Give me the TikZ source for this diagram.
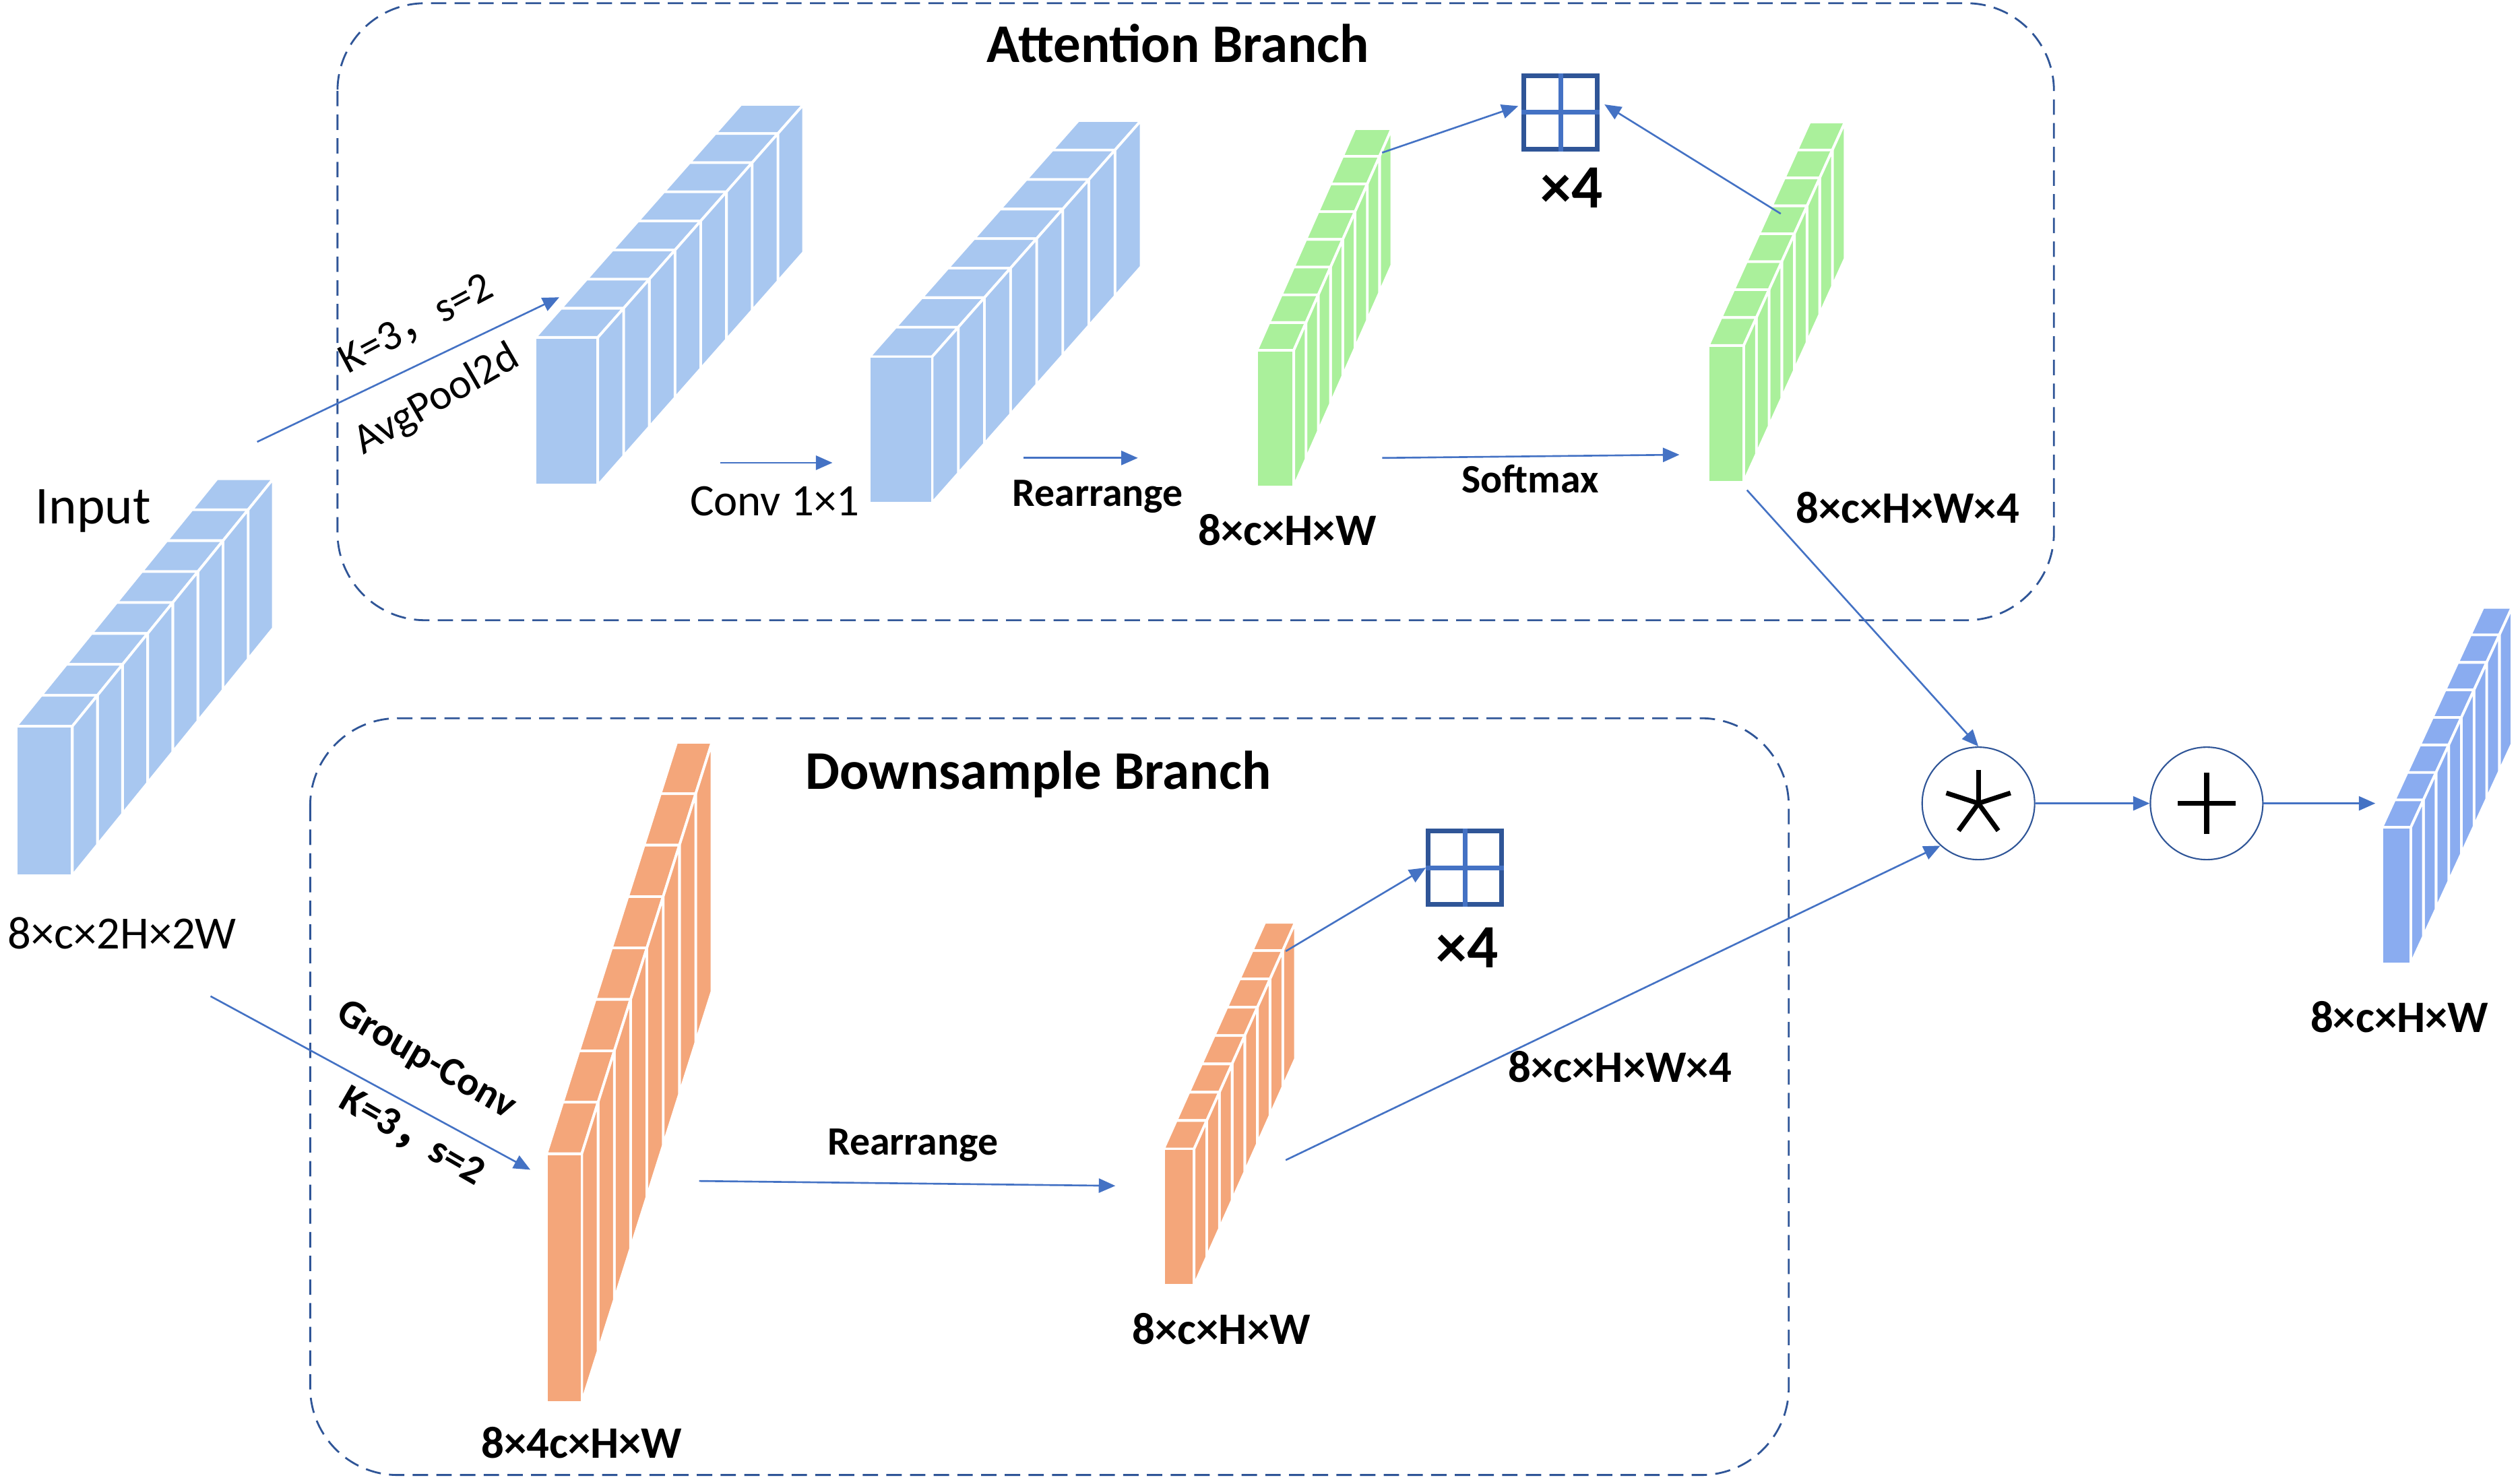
\documentclass[tikz,border=0pt]{standalone}
\usepackage{fontspec}
\setmainfont{Carlito}
\newfontfamily\cjk{Noto Sans CJK SC}
\usetikzlibrary{arrows.meta,calc}
\definecolor{blueFill}{RGB}{168,199,240}
\definecolor{greenFill}{RGB}{170,240,155}
\definecolor{orangeFill}{RGB}{244,166,122}
\definecolor{outFill}{RGB}{138,172,240}
\definecolor{arrowBlue}{RGB}{68,114,196}
\definecolor{boxBlue}{RGB}{47,85,151}
% #1 x0, #2 ytop, #3 w, #4 h, #5 dx, #6 dy, #7 colour
\newcommand\featbar[7]{%
  \begin{scope}[shift={(#1,#2)}]
    \foreach \i in {7,6,...,0}{%
      \pgfmathsetmacro\ox{\i*(#5)/8}%
      \pgfmathsetmacro\oy{\i*(#6)/8}%
      \pgfmathsetmacro\px{(\i+1)*(#5)/8}%
      \pgfmathsetmacro\py{(\i+1)*(#6)/8}%
      \filldraw[fill=#7,draw=white,line width=1.1pt,line join=round]
        (\ox,\oy) -- ({#3+\ox},\oy) -- ({#3+\px},\py) -- (\px,\py) -- cycle;
      \filldraw[fill=#7,draw=white,line width=1.1pt,line join=round]
        ({#3+\ox},\oy) -- ({#3+\ox},{#4+\oy}) -- ({#3+\px},{#4+\py}) -- ({#3+\px},\py) -- cycle;
    }
    \filldraw[fill=#7,draw=white,line width=1.1pt,line join=round] (0,0) rectangle (#3,#4);
  \end{scope}}
\tikzset{
  conn/.style={draw=arrowBlue,line width=0.75pt,-{Triangle[length=7pt,width=6pt]}},
  branchbox/.style={draw=boxBlue,line width=0.8pt,dash pattern=on 6.5pt off 3.5pt,rounded corners=37pt},
  title/.style={font=\fontsize{23}{27}\selectfont\bfseries,inner sep=0pt},
  lblb/.style={font=\fontsize{19}{22}\selectfont\bfseries,inner sep=0pt},
  lblr/.style={font=\fontsize{19.5}{22}\selectfont,inner sep=0pt},
  oplbl/.style={font=\fontsize{17}{20}\selectfont\bfseries,inner sep=0pt},
  oplblr/.style={font=\fontsize{18}{20}\selectfont,inner sep=0pt},
  times/.style={font=\fontsize{26}{28}\selectfont\bfseries,inner sep=0pt},
  gridbox/.style={draw=boxBlue,line width=2pt,minimum width=31pt,minimum height=31pt,inner sep=0pt},
  opcircle/.style={circle,draw=boxBlue,line width=0.6pt,minimum size=47.5pt,inner sep=0pt},
}
\begin{document}
\begin{tikzpicture}[x=0.023852cm,y=-0.023852cm]
\useasboundingbox (0,0) rectangle (1568,922);

% branch boxes
\draw[branchbox] (210,2) rectangle (1278,386);
\draw[branchbox] (193,447) rectangle (1113,918);
\node[title] (attT) at (733,27) {Attention Branch};
\node[title] (downT) at (646,482) {Downsample Branch};

% feature bars
\featbar{10}{452}{35}{93}{125}{-154}{blueFill}
\featbar{333}{210}{39}{92}{128}{-145}{blueFill}
\featbar{541}{222}{39}{91}{130}{-147}{blueFill}
\featbar{782}{218}{23}{85}{61}{-138}{greenFill}
\featbar{1063}{215}{22}{85}{63}{-139}{greenFill}
\featbar{340}{718}{22}{155}{81}{-256}{orangeFill}
\featbar{724}{715}{19}{85}{63}{-141}{orangeFill}
\featbar{1482}{515}{18}{85}{63}{-137}{outFill}

% grid icons
\node[gridbox] (g1) at (971,70) {};
\draw[arrowBlue,line width=2pt] (g1.north) -- (g1.south) (g1.west) -- (g1.east);
\node[gridbox] (g2) at (911.5,540) {};
\draw[arrowBlue,line width=2pt] (g2.north) -- (g2.south) (g2.west) -- (g2.east);
\node[times] (x4a) at (978,117) {×4};
\node[times] (x4b) at (913,590) {×4};

% operator circles
\node[opcircle] (mul) at (1231,500) {};
\node[opcircle] (add) at (1373,500) {};
\foreach \a in {-90,-18,-162,54,126}
  \draw[black,line width=2pt] (mul.center) -- ++(\a:21);
\draw[black,line width=2.2pt] ($(add.center)+(-18,0)$) -- ($(add.center)+(18,0)$)
  ($(add.center)+(0,-19)$) -- ($(add.center)+(0,19)$);

% connector end points
\coordinate (inA) at (160,275);   \coordinate (a1in) at (348,185);
\coordinate (convS) at (448,288); \coordinate (a2in) at (518,288);
\coordinate (rearS) at (637,285); \coordinate (g1in) at (708,285);
\coordinate (g1top) at (860,95);
\coordinate (g2top) at (1108,133);
\coordinate (softS) at (860,285); \coordinate (g2in) at (1045,283);
\coordinate (g2out) at (1087,305);
\coordinate (o2out) at (800,722);
\coordinate (o2top) at (800,592);
\coordinate (outIn) at (1478,500);
\coordinate (inB) at (131,620);   \coordinate (o1in) at (330,728);
\coordinate (o1out) at (435,735); \coordinate (o2in) at (694,738);

% connectors
\draw[conn] (inA) -- (a1in);
\draw[conn] (convS) -- (a2in);
\draw[conn] (rearS) -- (g1in);
\draw[conn] (g1top) -- ($(g1.west)+(-2,-4)$);
\draw[conn] (g2top) -- ($(g1.east)+(3,-5)$);
\draw[conn] (softS) -- (g2in);
\draw[conn] (g2out) -- (mul.north);
\draw[conn] (o2out) -- (mul.228);
\draw[conn] (mul.east) -- (add.west);
\draw[conn] (add.east) -- (outIn);
\draw[conn] (inB) -- (o1in);
\draw[conn] (o1out) -- (o2in);
\draw[conn] (o2top) -- (g2.west);

% labels
\node[font=\fontsize{22.5}{26}\selectfont,inner sep=0pt] (inL) at (58,318) {Input};
\node[lblr] (inDim) at (76,581) {8×c×2H×2W};
\node[oplblr,rotate=28] (ks1) at (259,202) {K=3{\cjk ，}s=2};
\node[oplblr,rotate=30] (avg) at (272,249) {AvgPool2d};
\node[oplbl,rotate=-30] (gc) at (265,660) {Group-Conv};
\node[oplbl,rotate=-30] (ks2) at (256,708) {K=3{\cjk ，}s=2};
\node[font=\fontsize{19}{22}\selectfont,inner sep=0pt] (convL) at (482,312) {Conv 1×1};
\node[oplbl] (rear1) at (683,309) {Rearrange};
\node[lblb] (d1) at (801,330) {8×c×H×W};
\node[oplbl] (soft) at (952,298) {Softmax};
\node[lblb] (d2) at (1187,316) {8×c×H×W×4};
\node[oplbl] (rear2) at (568,713) {Rearrange};
\node[lblb] (d3) at (362,898) {8×4c×H×W};
\node[lblb] (d4) at (760,827) {8×c×H×W};
\node[lblb] (d5) at (1008,664) {8×c×H×W×4};
\node[lblb] (d6) at (1493,633) {8×c×H×W};
\end{tikzpicture}
\end{document}
